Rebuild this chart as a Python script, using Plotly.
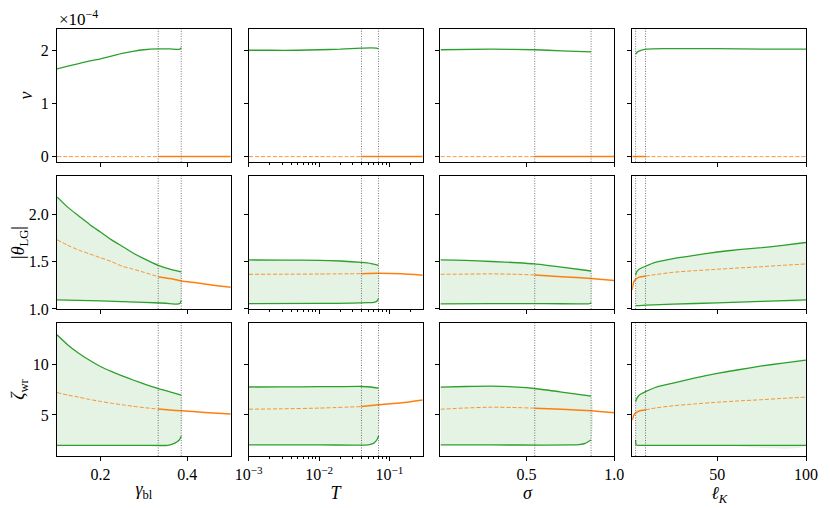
import plotly.graph_objects as go
from plotly.subplots import make_subplots

GREEN = "#2ca02c"
ORANGE = "#ff7f0e"
FILL = "rgba(44,160,44,0.13)"
FONT = "Liberation Serif"

# ---- column 1: gamma_bl sweep ----
gb_bif = [0.333, 0.386]
gb_nu_x = [0.1, 0.125, 0.15, 0.175, 0.2, 0.225, 0.25, 0.275, 0.3, 0.333, 0.36, 0.383, 0.386]
gb_nu = [1.65, 1.70, 1.75, 1.80, 1.84, 1.89, 1.94, 1.98, 2.01, 2.025, 2.025, 2.02, 2.05]
gb_or_x = [0.1, 0.125, 0.15, 0.175, 0.2, 0.225, 0.25, 0.275, 0.3, 0.333, 0.36, 0.386, 0.42, 0.46, 0.5]
gb_or_nu = [0.0] * 15
gb_or_th = [1.73, 1.67, 1.62, 1.58, 1.54, 1.50, 1.45, 1.42, 1.386, 1.34, 1.32, 1.295, 1.275, 1.25, 1.23]
gb_or_z = [7.2, 6.95, 6.75, 6.52, 6.33, 6.15, 6.0, 5.85, 5.72, 5.57, 5.48, 5.4, 5.3, 5.18, 5.08]
gb_up_x = [0.1, 0.125, 0.15, 0.175, 0.2, 0.225, 0.25, 0.275, 0.3, 0.333, 0.36, 0.386]
gb_up_th = [2.18, 2.07, 1.98, 1.89, 1.81, 1.73, 1.66, 1.59, 1.53, 1.46, 1.42, 1.39]
gb_up_z = [12.9, 11.9, 11.08, 10.38, 9.77, 9.28, 8.85, 8.44, 8.06, 7.6, 7.28, 6.96]
gb_lo_th_x = [0.1, 0.2, 0.3, 0.35, 0.375, 0.383, 0.386]
gb_lo_th = [1.095, 1.085, 1.07, 1.06, 1.052, 1.058, 1.09]
gb_lo_z_x = [0.1, 0.2, 0.3, 0.355, 0.37, 0.381, 0.386]
gb_lo_z = [2.0, 2.0, 2.0, 2.0, 2.2, 2.5, 2.9]

# ---- column 2: T sweep ----
t_bif = [0.04, 0.07]
t_nu_x = [0.001, 0.002, 0.005, 0.01, 0.02, 0.04, 0.055, 0.065, 0.07]
t_nu = [2.0, 2.0, 2.0, 2.01, 2.02, 2.04, 2.045, 2.04, 2.03]
t_or_x = [0.001, 0.003, 0.01, 0.04, 0.07, 0.15, 0.3]
t_or_nu = [0.0] * 7
t_or_th = [1.365, 1.366, 1.368, 1.372, 1.375, 1.37, 1.355]
t_or_z = [5.56, 5.6, 5.67, 5.82, 6.0, 6.2, 6.48]
t_up_x = [0.001, 0.003, 0.01, 0.02, 0.04, 0.055, 0.07]
t_up_th = [1.516, 1.515, 1.512, 1.505, 1.49, 1.478, 1.46]
t_up_z = [7.75, 7.76, 7.78, 7.79, 7.8, 7.75, 7.63]
t_lo_th_x = [0.001, 0.01, 0.03, 0.05, 0.06, 0.066, 0.07]
t_lo_th = [1.056, 1.058, 1.062, 1.066, 1.07, 1.08, 1.11]
t_lo_z_x = [0.001, 0.01, 0.03, 0.05, 0.06, 0.067, 0.07]
t_lo_z = [2.04, 2.04, 2.03, 2.05, 2.22, 2.6, 2.93]

# ---- column 3: sigma sweep ----
s_bif = [0.547, 0.868]
s_nu_x = [0.01, 0.3, 0.547, 0.7, 0.868]
s_nu = [2.01, 2.02, 2.01, 1.99, 1.97]
s_or_x = [0.01, 0.15, 0.3, 0.45, 0.547, 0.7, 0.868, 1.0]
s_or_nu = [0.0] * 8
s_or_th = [1.365, 1.367, 1.37, 1.365, 1.358, 1.34, 1.32, 1.30]
s_or_z = [5.56, 5.68, 5.76, 5.72, 5.66, 5.55, 5.4, 5.2]
s_up_x = [0.01, 0.15, 0.3, 0.45, 0.547, 0.7, 0.868]
s_up_th = [1.516, 1.512, 1.50, 1.487, 1.474, 1.44, 1.40]
s_up_z = [7.74, 7.8, 7.84, 7.74, 7.6, 7.25, 6.84]
s_lo_th_x = [0.01, 0.3, 0.6, 0.8, 0.85, 0.862, 0.868]
s_lo_th = [1.053, 1.056, 1.056, 1.054, 1.054, 1.058, 1.07]
s_lo_z_x = [0.01, 0.3, 0.6, 0.76, 0.8, 0.835, 0.868]
s_lo_z = [2.04, 2.04, 2.03, 2.04, 2.08, 2.2, 2.53]

# ---- column 4: ell_K sweep ----
l_bif = [3.9, 9.5]
l_nu_x = [3.9, 5, 7, 10, 20, 35, 50, 75, 100]
l_nu = [1.93, 1.97, 2.0, 2.02, 2.03, 2.03, 2.03, 2.02, 2.02]
l_or_x = [2, 2.5, 3, 4, 6, 9.5, 15, 25, 37, 50, 62, 75, 87, 100]
l_or_nu = [0.0] * 14
l_or_th = [1.20, 1.26, 1.29, 1.315, 1.335, 1.347, 1.362, 1.386, 1.403, 1.418, 1.432, 1.445, 1.46, 1.474]
l_or_z = [4.5, 4.8, 5.0, 5.2, 5.38, 5.5, 5.68, 5.9, 6.08, 6.25, 6.38, 6.5, 6.63, 6.75]
l_up_x = [3.9, 4.5, 6, 9.5, 15, 25, 37, 50, 62, 75, 87, 100]
l_up_th = [1.358, 1.39, 1.42, 1.45, 1.49, 1.53, 1.565, 1.60, 1.625, 1.645, 1.67, 1.70]
l_up_z = [6.31, 6.6, 6.97, 7.3, 7.7, 8.13, 8.63, 9.1, 9.45, 9.83, 10.1, 10.4]
l_lo_th_x = [3.9, 4.1, 6, 10, 25, 50, 75, 100]
l_lo_th = [1.035, 1.035, 1.036, 1.04, 1.05, 1.065, 1.08, 1.095]
l_lo_z_x = [3.9, 4.0, 4.3, 10, 50, 100]
l_lo_z = [2.53, 2.2, 2.03, 2.0, 2.0, 1.99]

x_titles = ["<i>γ</i><sub>bl</sub>", "<i>T</i>", "<i>σ</i>", "<i>ℓ</i><sub><i>K</i></sub>"]
y_titles = ["<i>ν</i>", "|<i>θ</i><sub>LG</sub>|", "<i>ζ</i><sub>wr</sub>"]

columns = [
    dict(bif=gb_bif, nu_x=gb_nu_x, nu=gb_nu, or_x=gb_or_x, or_rows=[gb_or_nu, gb_or_th, gb_or_z],
         up_x=gb_up_x, up=[gb_up_th, gb_up_z], lo_x=[gb_lo_th_x, gb_lo_z_x], lo=[gb_lo_th, gb_lo_z],
         split=gb_bif[0], dashed_left=True),
    dict(bif=t_bif, nu_x=t_nu_x, nu=t_nu, or_x=t_or_x, or_rows=[t_or_nu, t_or_th, t_or_z],
         up_x=t_up_x, up=[t_up_th, t_up_z], lo_x=[t_lo_th_x, t_lo_z_x], lo=[t_lo_th, t_lo_z],
         split=t_bif[0], dashed_left=True),
    dict(bif=s_bif, nu_x=s_nu_x, nu=s_nu, or_x=s_or_x, or_rows=[s_or_nu, s_or_th, s_or_z],
         up_x=s_up_x, up=[s_up_th, s_up_z], lo_x=[s_lo_th_x, s_lo_z_x], lo=[s_lo_th, s_lo_z],
         split=s_bif[0], dashed_left=True),
    dict(bif=l_bif, nu_x=l_nu_x, nu=l_nu, or_x=l_or_x, or_rows=[l_or_nu, l_or_th, l_or_z],
         up_x=l_up_x, up=[l_up_th, l_up_z], lo_x=[l_lo_th_x, l_lo_z_x], lo=[l_lo_th, l_lo_z],
         split=l_bif[1], dashed_left=False),
]

SMOOTH = 0.5


def line(x, y, color, dash="solid", width=1.3):
    return go.Scatter(x=x, y=y, mode="lines", showlegend=False, hoverinfo="skip",
                      line=dict(color=color, width=width, dash=dash, shape="spline", smoothing=SMOOTH))


fig = make_subplots(rows=3, cols=4, shared_xaxes=True, shared_yaxes=True,
                    horizontal_spacing=0.024, vertical_spacing=0.033)

for ci, c in enumerate(columns):
    col = ci + 1
    for ri in range(3):
        row = ri + 1
        # green band (rows 2 and 3) or green line (row 1)
        if ri == 0:
            fig.add_trace(line(c["nu_x"], c["nu"], GREEN), row=row, col=col)
        else:
            ux, uy = c["up_x"], c["up"][ri - 1]
            lx, ly = c["lo_x"][ri - 1], c["lo"][ri - 1]
            fig.add_trace(go.Scatter(x=ux + lx[::-1], y=uy + ly[::-1], fill="toself", fillcolor=FILL,
                                     mode="lines", line=dict(width=0, shape="spline", smoothing=SMOOTH),
                                     showlegend=False, hoverinfo="skip"), row=row, col=col)
            fig.add_trace(line(ux, uy, GREEN), row=row, col=col)
            fig.add_trace(line(lx, ly, GREEN), row=row, col=col)
        # orange branch: dashed where unstable, solid where stable
        ox, oy = c["or_x"], c["or_rows"][ri]
        left = [(x, y) for x, y in zip(ox, oy) if x <= c["split"]]
        right = [(x, y) for x, y in zip(ox, oy) if x >= c["split"]]
        for seg, is_left in ((left, True), (right, False)):
            dashed = is_left == c["dashed_left"]
            fig.add_trace(line([p[0] for p in seg], [p[1] for p in seg],
                               "rgba(255,127,14,0.85)" if dashed else ORANGE,
                               dash="4px,2px" if dashed else "solid", width=1.0 if dashed else 1.5),
                          row=row, col=col)
        for b in c["bif"]:
            fig.add_vline(x=b, row=row, col=col, line=dict(color="#555555", width=0.8, dash="1px,1.5px"))

axis_common = dict(showline=True, mirror=True, linecolor="black", linewidth=1.2,
                   ticks="outside", ticklen=4, tickwidth=1, tickcolor="black", automargin=False,
                   showgrid=False, zeroline=False, tickfont=dict(size=16))
fig.update_xaxes(**axis_common)
fig.update_yaxes(**axis_common)

x_ranges = [[0.1, 0.5], [-3, -0.53], [0.01, 1.0], [2, 100]]
x_ticks = [[0.2, 0.4], [0.001, 0.01, 0.1], [0.5, 1.0], [50, 100]]
x_ticktext = [["0.2", "0.4"], ["10<sup>−3</sup>", "10<sup>−2</sup>", "10<sup>−1</sup>"], ["0.5", "1.0"], ["50", "100"]]
minor_T = [m * 10.0 ** e for e in (-3, -2, -1) for m in range(2, 10) if m * 10.0 ** e < 0.3]
for ci in range(4):
    for ri in range(3):
        kw = dict(range=x_ranges[ci], tickvals=x_ticks[ci], ticktext=x_ticktext[ci])
        if ci == 1:
            kw.update(type="log", minor=dict(ticks="outside", ticklen=2, tickwidth=0.8,
                                             tickcolor="black", tickvals=minor_T))
        if ri == 2:
            kw.update(title=dict(text=x_titles[ci], font=dict(size=18), standoff=0))
        fig.update_xaxes(row=ri + 1, col=ci + 1, **kw)

y_ranges = [[-0.1, 2.4], [1.0, 2.4], [0.95, 14.05]]
y_ticks = [[0, 1, 2], [1.0, 1.5, 2.0], [5, 10]]
y_ticktext = [["0", "1", "2"], ["1.0", "1.5", "2.0"], ["5", "10"]]
for ri in range(3):
    for ci in range(4):
        kw = dict(range=y_ranges[ri], tickvals=y_ticks[ri], ticktext=y_ticktext[ri])
        if ci == 0:
            kw.update(title=dict(text=y_titles[ri], font=dict(size=18), standoff=3))
        fig.update_yaxes(row=ri + 1, col=ci + 1, **kw)

fig.add_annotation(text="×10<sup>−4</sup>", xref="paper", yref="paper", x=0.0, y=1.0,
                   xanchor="left", yanchor="bottom", yshift=-2, showarrow=False, font=dict(size=17))

# the page body adds an 8px offset, so the figure is sized to the visible 822x500 area
fig.update_layout(width=822, height=500, margin=dict(l=49, r=24, t=21, b=52),
                  plot_bgcolor="white", paper_bgcolor="white",
                  font=dict(family=FONT, size=16, color="black"))

fig.write_html("out.html")
